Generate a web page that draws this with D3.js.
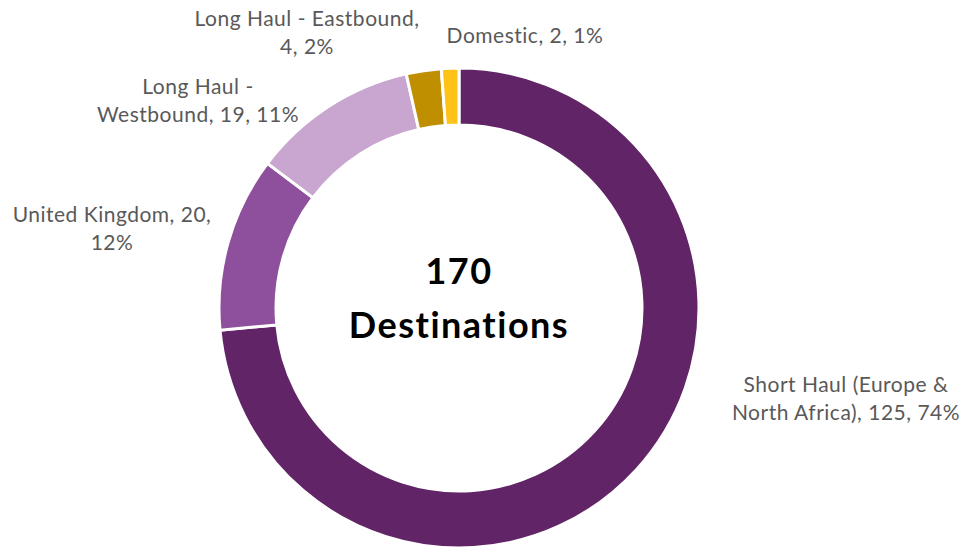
<!DOCTYPE html>
<html>
<head>
<meta charset="utf-8">
<script src="https://cdn.jsdelivr.net/npm/d3@7"></script>
<style>
  body { margin: 0; background: #fff; }
  text { font-family: Lato, "Open Sans", sans-serif; }
</style>
</head>
<body>
<svg id="donut" width="967" height="549"></svg>
<script>
const categories = [
  "Short Haul (Europe & North Africa)",
  "United Kingdom",
  "Long Haul - Westbound",
  "Long Haul - Eastbound",
  "Domestic",
];
const values = [125, 20, 19, 4, 2];
const colors = ["#612466", "#8E4F9C", "#C9A6D0", "#BF8F00", "#FFC218"];
const labelLines = [
  ["Short Haul (Europe &", "North Africa), 125, 74%"],
  ["United Kingdom, 20,", "12%"],
  ["Long Haul -", "Westbound, 19, 11%"],
  ["Long Haul - Eastbound,", "4, 2%"],
  ["Domestic, 2, 1%"],
];
const centerLines = ["170", "Destinations"];

// label centres (layout only)
const labelAt = [[846, 400], [112, 230], [198, 102], [307, 34], [525, 37]];

const svg = d3.select("#donut");
const cx = 459, cy = 308;
const outerR = 240, innerR = 183;

const data = categories.map((c, i) => ({ name: c, value: values[i], color: colors[i], lines: labelLines[i], at: labelAt[i] }));

const pie = d3.pie().value((d) => d.value).sort(null);
const arc = d3.arc().innerRadius(innerR).outerRadius(outerR);

const g = svg.append("g").attr("transform", `translate(${cx},${cy})`);

g.selectAll("path")
  .data(pie(data))
  .enter()
  .append("path")
  .attr("d", arc)
  .attr("fill", (d) => d.data.color)
  .attr("stroke", "#fff")
  .attr("stroke-width", 3)
  .attr("stroke-linejoin", "miter");

// data labels
const lineH = 28;
const labels = svg.selectAll(".lbl").data(data).enter().append("text")
  .attr("class", "lbl")
  .attr("text-anchor", "middle")
  .attr("fill", "#595959")
  .attr("font-size", 21)
  .attr("letter-spacing", 0.5);

labels.each(function (d) {
  const t = d3.select(this);
  const n = d.lines.length;
  d.lines.forEach((ln, i) => {
    t.append("tspan")
      .attr("x", d.at[0])
      .attr("y", d.at[1] + (i - (n - 1) / 2) * lineH + 6)
      .text(ln);
  });
});

// centre text
svg.append("text")
  .attr("text-anchor", "middle")
  .attr("font-weight", "bold")
  .attr("font-size", 36)
  .attr("letter-spacing", 1.5)
  .attr("fill", "#000")
  .selectAll("tspan")
  .data(centerLines)
  .enter()
  .append("tspan")
  .attr("x", cx)
  .attr("y", (d, i) => 284 + i * 54)
  .text((d) => d);
</script>
</body>
</html>
